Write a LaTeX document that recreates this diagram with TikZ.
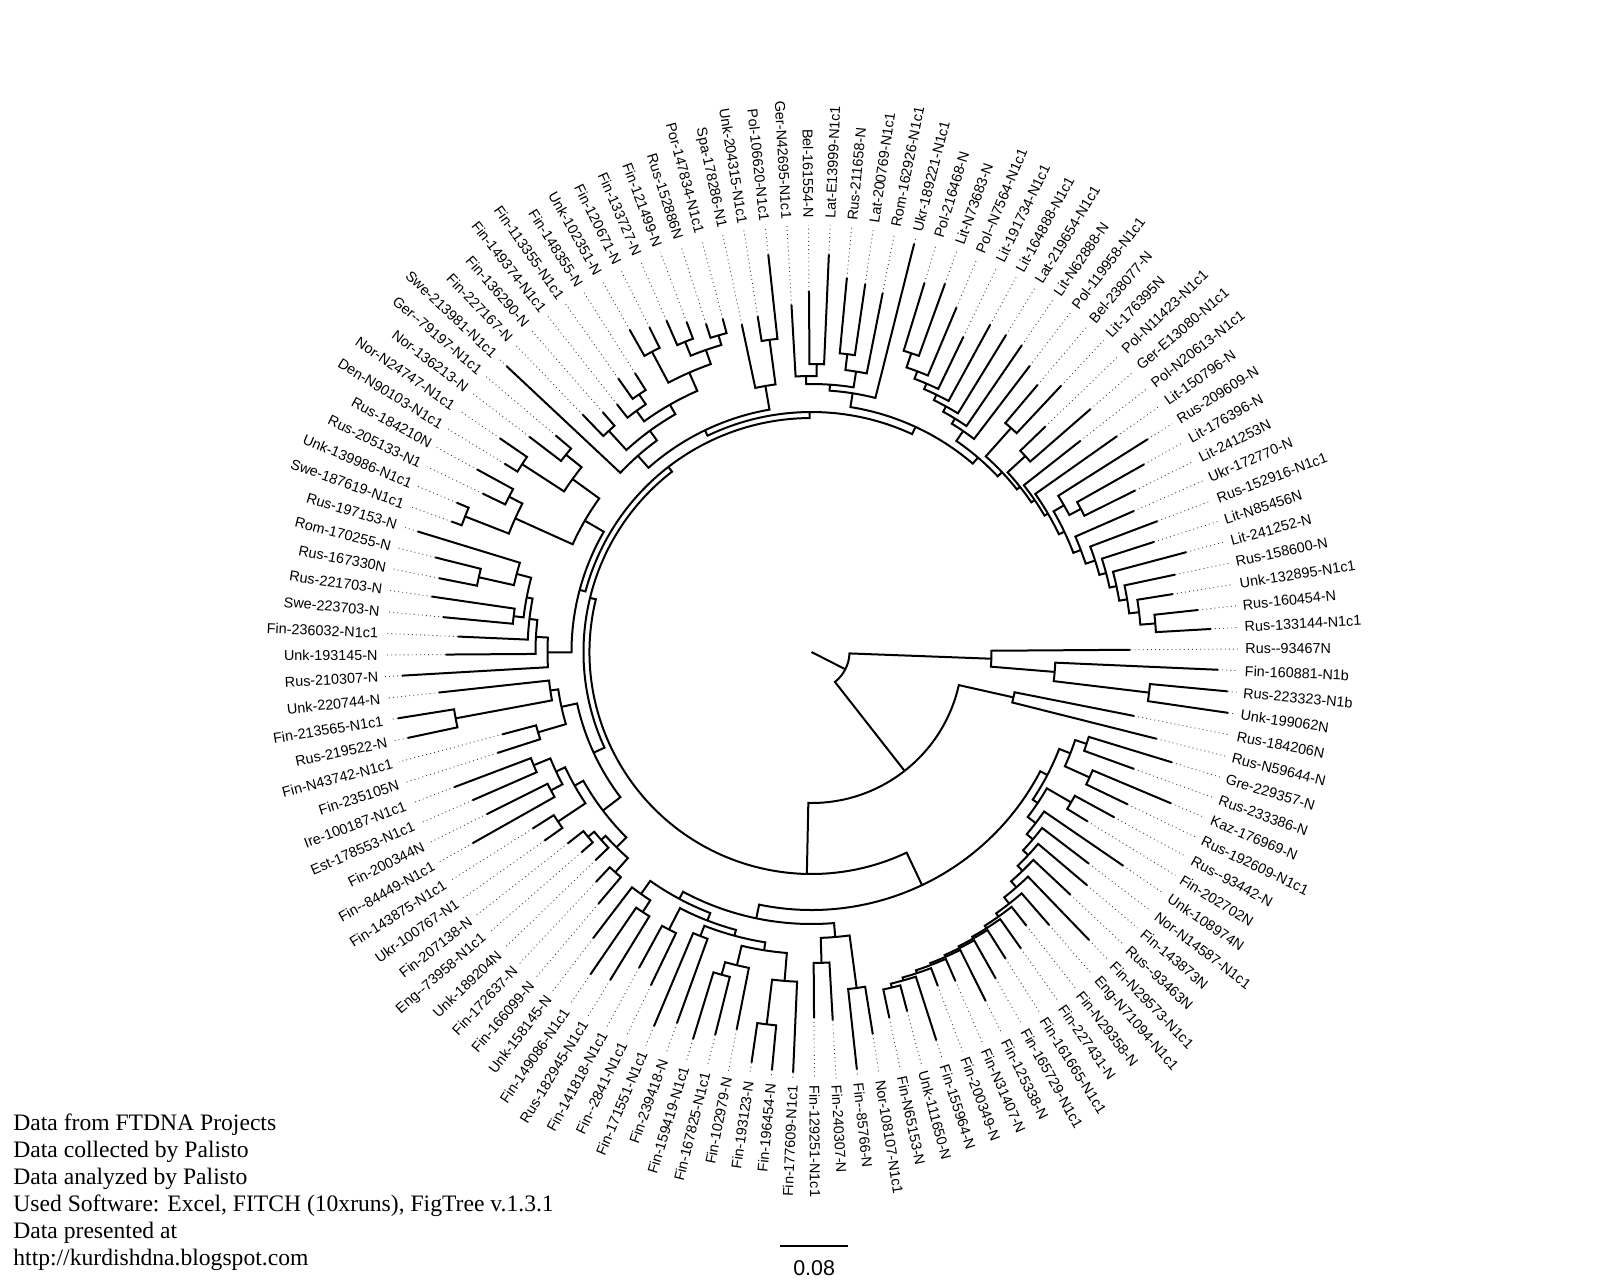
\documentclass[tikz,border=0pt]{standalone}
\usepackage{fontspec}
\setmainfont{Liberation Serif}
\newfontfamily\lblfont{Liberation Sans}
\tikzset{
  branch/.style={line width=1pt},
  guide/.style={line width=0.45pt, dash pattern=on 0.45pt off 1.6pt, black!75},
  tiplabel/.style={font=\lblfont\fontsize{7.2}{8.6}\selectfont, inner sep=0pt},
  note/.style={font=\fontsize{11.8}{13.5}\selectfont, inner sep=0pt},
}
\newcommand\setang[2]{\expandafter\xdef\csname tang-#1\endcsname{#2}}
\newcommand\getang[1]{\csname tang-#1\endcsname}
% one tip: name, slot round the circle, tip radius, text
\newcommand\leaf[4]{%
  \pgfmathsetmacro\lfang{0.4+#2*2.9032258}%
  \setang{#1}{\lfang}%
  \coordinate (#1) at (\lfang:#3);
  \coordinate (#1-dot) at (\lfang:427);
  \draw[guide] (#1) -- (#1-dot);
  \pgfmathtruncatemacro\lfside{(\lfang>90)&&(\lfang<270)}%
  \ifnum\lfside=1
    \node[tiplabel, anchor=east, rotate=\lfang-180] (#1-lbl) at (\lfang:433.5) {#4};
  \else
    \node[tiplabel, anchor=west, rotate=\lfang] (#1-lbl) at (\lfang:433.5) {#4};
  \fi
}
% one inner node: [angle], name, radius, first child, last child
\newcommand\clade[5][]{%
  \pgfmathsetmacro\cla{\getang{#4}}%
  \pgfmathsetmacro\clb{\getang{#5}}%
  \if\relax\detokenize{#1}\relax
    \pgfmathsetmacro\clm{(\cla+\clb)/2}%
  \else
    \pgfmathsetmacro\clm{#1}%
  \fi
  \setang{#2}{\clm}%
  \coordinate (#2) at (\clm:#3);
  \coordinate (#4-foot) at (\cla:#3);
  \coordinate (#5-foot) at (\clb:#3);
  \draw[branch] (#4) -- (#4-foot) arc[start angle=\cla, end angle=\clb, radius=#3*0.5pt] -- (#5);
}
\begin{document}
\begin{tikzpicture}[x=0.5pt, y=0.5pt]
  \useasboundingbox (-811.5,-630) rectangle (788.5,652);

  % Tips
  \leaf{l0}{124}{319}{Rus-{}-93467N}
  \foreach \s/\r/\t in {
    1/400/Rus-133144-N1c1, 2/389/Rus-160454-N, 3/366/Unk-132895-N1c1,
    4/372/Rus-158600-N, 5/388/Lit-241252-N, 6/360/Lit-N85456N,
    7/370/Rus-152916-N1c1, 8/352/Ukr-172770-N, 9/362/Lit-241253N,
    10/382/Lit-176396-N, 11/398/Rus-209609-N, 12/374/Lit-150796-N,
    13/342/Pol-N20613-N1c1, 14/370/Ger-E13080-N1c1, 15/325/Pol-N11423-N1c1,
    16/365/Lit-176395N, 17/350/Bel-238077-N, 18/360/Pol-119958-N1c1,
    19/372/Lit-N62888-N, 20/372/Lat-219654-N1c1, 21/373/Lit-164888-N1c1,
    22/350/Lit-191734-N1c1, 23/374/Pol-{}-N7564-N1c1, 24/392/Lit-N73683-N,
    25/386/Pol-216468-N, 26/421/Ukr-189221-N1c1, 27/366/Rom-162926-N1c1,
    28/372/Lat-200769-N1c1, 29/376/Rus-211658-N, 30/398/Lat-E13999-N1c1,
    31/361/Bel-161554-N, 32/348/Ger-N42695-N1c1, 33/400/Pol-106620-N1c1,
    34/340/Unk-204315-N1c1, 35/335/Spa-178286-N1, 36/345/Por-147834-N1c1,
    37/345/Rus-152886N, 38/353/Fin-121499-N, 39/362/Fin-133727-N,
    40/363/Fin-120671-N, 41/370/Unk-102351-N, 42/330/Fin-148355-N,
    43/335/Fin-113355-N1c1, 44/315/Fin-149374-N1c1, 45/318/Fin-136290-N,
    46/330/Fin-227167-N, 47/418/Swe-213981-N1c1, 48/335/Ger-{}-79197-N1c1,
    49/355/Nor-136213-N, 50/378/Nor-N24747-N1c1, 51/360/Den-N90103-N1c1,
    52/381/Rus-184210N, 53/365/Rus-205133-N1, 54/385/Unk-139986-N1c1,
    55/383/Swe-187619-N1c1, 56/412/Rus-197153-N, 57/388/Rom-170255-N,
    58/380/Rus-167330N, 59/384/Rus-221703-N, 60/370/Swe-223703-N,
    61/354/Fin-236032-N1c1, 62/366/Unk-193145-N, 63/410/Rus-210307-N,
    64/375/Unk-220744-N, 65/419/Fin-213565-N1c1, 66/413/Rus-219522-N,
    67/320/Fin-N43742-N1c1, 68/330/Fin-235105N, 69/382/Ire-100187-N1c1,
    70/370/Est-178553-N1c1, 71/363/Fin-200344N, 72/389/Fin-{}-84449-N1c1,
    73/330/Fin-143875-N1c1, 74/327/Ukr-100767-N1, 75/310/Fin-207138-N,
    76/305/Eng-{}-73958-N1c1, 77/300/Unk-189204N, 78/315/Fin-172637-N,
    79/330/Fin-166099-N, 80/360/Unk-158145-N, 81/391/Fin-149086-N1c1,
    82/385/Rus-182945-N1c1, 83/360/Fin-141818-N1c1, 84/370/Fin-{}-2841-N1c1,
    85/406/Fin-171551-N1c1, 86/395/Fin-239418-N, 87/405/Fin-159419-N1c1,
    88/395/Fin-167825-N1c1, 89/385/Fin-102979-N, 90/415/Fin-193123-N,
    91/420/Fin-196454-N, 92/421/Fin-177609-N1c1, 93/366/Fin-129251-N1c1,
    94/369/Fin-240307-N, 95/420/Fin-{}-85766-N, 96/387/Nor-108107-N1c1,
    97/374/Fin-N65153-N, 98/372/Unk-111650-N, 99/408/Fin-155964-N,
    100/357/Fin-200349-N, 101/359/Fin-N31407-N, 102/390/Fin-125338-N,
    103/375/Fin-165729-N1c1, 104/363/Fin-161665-N1c1, 105/363/Fin-227431-N,
    106/348/Fin-N29358-N, 107/362/Eng-N71094-N1c1, 108/400/Fin-N29573-N1c1,
    109/355/Rus-{}-93463N, 110/361/Fin-143873N, 111/349/Nor-N14587-N1c1,
    112/378/Unk-108974N, 113/324/Fin-202702N, 114/345/Rus-{}-93442-N,
    115/351/Rus-192609-N1c1, 116/390/Kaz-176969-N, 117/343/Rus-233386-N,
    118/377/Gre-229357-N, 119/356/Rus-N59644-N, 120/329/Rus-184206N,
    121/421/Unk-199062N, 122/418/Rus-223323-N1b, 123/407/Fin-160881-N1b} {
    \leaf{l\s}{\s}{\r}{\t}
  }

  % N1b group
  \clade{nY}{340}{l122}{l121}
  \clade{nB}{244}{l123}{nY}
  \clade{nC}{180}{l0}{nB}

  % upper right
  \clade{a1}{345}{l1}{l2}
  \clade{a2}{330}{a1}{l3}
  \clade{a3}{320}{a2}{l4}
  \clade{a4}{312}{a3}{l5}
  \clade{a5}{305}{a4}{l6}
  \clade{a6}{298}{a5}{l7}
  \clade{a7}{288}{a6}{l8}
  \clade{b1}{305}{l9}{l10}
  \clade{b2}{292}{b1}{l11}
  \clade{a8}{280}{a7}{b2}
  \clade{a9}{274}{a8}{l12}
  \clade{a10}{270}{a9}{l13}
  \clade{b3}{290}{l14}{l15}
  \clade{a11}{266}{a10}{b3}
  \clade{b4}{300}{l16}{l17}
  \clade{a12}{262}{a11}{b4}
  \clade{t1}{315}{l24}{l25}
  \clade{t2}{300}{l23}{t1}
  \clade{t3}{292}{l22}{t2}
  \clade{t4}{286}{l21}{t3}
  \clade{t5}{280}{l20}{t4}
  \clade{t6}{274}{l19}{t5}
  \clade{t7}{268}{l18}{t6}
  \clade{UR}{256}{a12}{t7}

  % top
  \clade{u1}{288}{l30}{l31}
  \clade{u2}{276}{u1}{l32}
  \clade{u3}{300}{l28}{l29}
  \clade{u4}{284}{l27}{u3}
  \clade{u5}{268}{u4}{u2}
  \clade{u6}{262}{l26}{u5}
  \clade{Top}{248}{UR}{u6}

  % upper left
  \clade{v1}{315}{l33}{l34}
  \clade{v2}{270}{v1}{l35}
  \clade{w1}{330}{l36}{l37}
  \clade{w2}{335}{l38}{l39}
  \clade{w3}{320}{w1}{w2}
  \clade{w4}{340}{l40}{l41}
  \clade{w5}{305}{w3}{w4}
  \clade{w6}{310}{l42}{l43}
  \clade{w7}{298}{w6}{l44}
  \clade{w8}{285}{w5}{w7}
  \clade{w9}{300}{l45}{l46}
  \clade{w10}{274}{w8}{w9}
  \clade{w11}{262}{w10}{l47}
  \clade{TL}{246}{v2}{w11}

  % left
  \clade{x1}{315}{l48}{l49}
  \clade{x2}{345}{l50}{l51}
  \clade{x3}{295}{x1}{x2}
  \clade{x4}{340}{l52}{l53}
  \clade{x5}{372}{l54}{l55}
  \clade{x6}{325}{x4}{x5}
  \clade{x7}{262}{x3}{x6}
  \clade{y1}{341}{l57}{l58}
  \clade{y2}{305}{l56}{y1}
  \clade{y3}{300}{l59}{l60}
  \clade{y4}{290}{y2}{y3}
  \clade{y5}{284}{y4}{l61}
  \clade{y6}{276}{y5}{l62}
  \clade{y7}{264}{y6}{l63}
  \clade{Left}{240}{x7}{y7}

  % lower left
  \clade{z1}{362}{l65}{l66}
  \clade{z2}{264}{l64}{z1}
  \clade{z3}{285}{l67}{l68}
  \clade{z4}{256}{z2}{z3}
  \clade{z5}{300}{l69}{l70}
  \clade{z6}{295}{l71}{l72}
  \clade{z7}{282}{z5}{z6}
  \clade{z8}{305}{l73}{l74}
  \clade{z9}{272}{z7}{z8}
  \clade{z10}{290}{l75}{l76}
  \clade{z11}{282}{z10}{l77}
  \clade{z12}{295}{l78}{l79}
  \clade{z13}{276}{z11}{z12}
  \clade{z14}{262}{z9}{z13}
  \clade{LL}{240}{z4}{z14}

  \clade{M3}{240}{Top}{TL}
  \clade{M2}{234}{M3}{Left}
  \clade{Mega}{228}{M2}{LL}

  % bottom
  \clade{g1}{375}{l90}{l91}
  \clade{g2}{330}{g1}{l92}
  \clade{g3}{335}{l87}{l88}
  \clade{g4}{322}{g3}{l89}
  \clade{g5}{302}{g4}{g2}
  \clade{g6}{305}{l85}{l86}
  \clade{g7}{294}{g6}{g5}
  \clade{g8}{312}{l83}{l84}
  \clade{g9}{288}{g8}{g7}
  \clade{g10}{310}{l81}{l82}
  \clade{g11}{296}{l80}{g10}
  \clade{g12}{280}{g11}{g9}
  \clade{c1}{311}{l93}{l94}
  \clade{c2}{339}{l95}{l96}
  \clade{c3}{286}{c1}{c2}
  \clade{BF}{272}{g12}{c3}

  % lower right
  \clade{d1}{345}{l97}{l98}
  \clade{d2}{341}{d1}{l99}
  \clade{d3}{338}{d2}{l100}
  \clade{d4}{335}{d3}{l101}
  \clade{d5}{333}{d4}{l102}
  \clade{d6}{331}{d5}{l103}
  \clade{d7}{329}{d6}{l104}
  \clade{d8}{327}{d7}{l105}
  \clade{d9}{324}{d8}{l106}
  \clade{d10}{320}{d9}{l107}
  \clade{d11}{312}{d10}{l108}
  \clade{d12}{304}{d11}{l109}
  \clade{d13}{297}{d12}{l110}
  \clade{d14}{290}{d13}{l111}
  \clade{Dn}{282}{d14}{l112}
  \clade{p3}{300}{l113}{l114}
  \clade{q}{272}{Dn}{p3}
  \clade{p2}{305}{l115}{l116}
  \clade{p1}{290}{l117}{l118}
  \clade{p4}{278}{p2}{p1}
  \clade{BRc}{266}{q}{p4}
  \clade{BR}{258}{BF}{BRc}

  \clade{LR}{207}{l119}{l120}

  % backbone
  \clade[268.8]{Main}{222}{Mega}{BR}
  \clade{Big}{151}{Main}{LR}
  \clade{R1}{38}{Big}{nC}
  \coordinate (root) at (0,0);
  \draw[branch] (root) -- (R1);

  % scale bar
  \coordinate (bar-l) at (-31.5,-594);
  \coordinate (bar-r) at (36.8,-594);
  \draw[branch] (bar-l) -- (bar-r);
  \node[tiplabel, font=\lblfont\fontsize{10.7}{12}\selectfont] (bar-lbl) at (2.6,-616) {0.08};

  % notes
  \foreach \k/\txt in {0/{Data from FTDNA Projects}, 1/{Data collected by Palisto},
      2/{Data analyzed by Palisto}, 3/{Used Software: Excel, FITCH (10xruns), FigTree v.1.3.1},
      4/{Data presented at}, 5/{http://kurdishdna.blogspot.com}} {
    \node[note, anchor=base west] (note\k) at (-798.5, {-478-27*\k}) {\txt};
  }
\end{tikzpicture}
\end{document}
